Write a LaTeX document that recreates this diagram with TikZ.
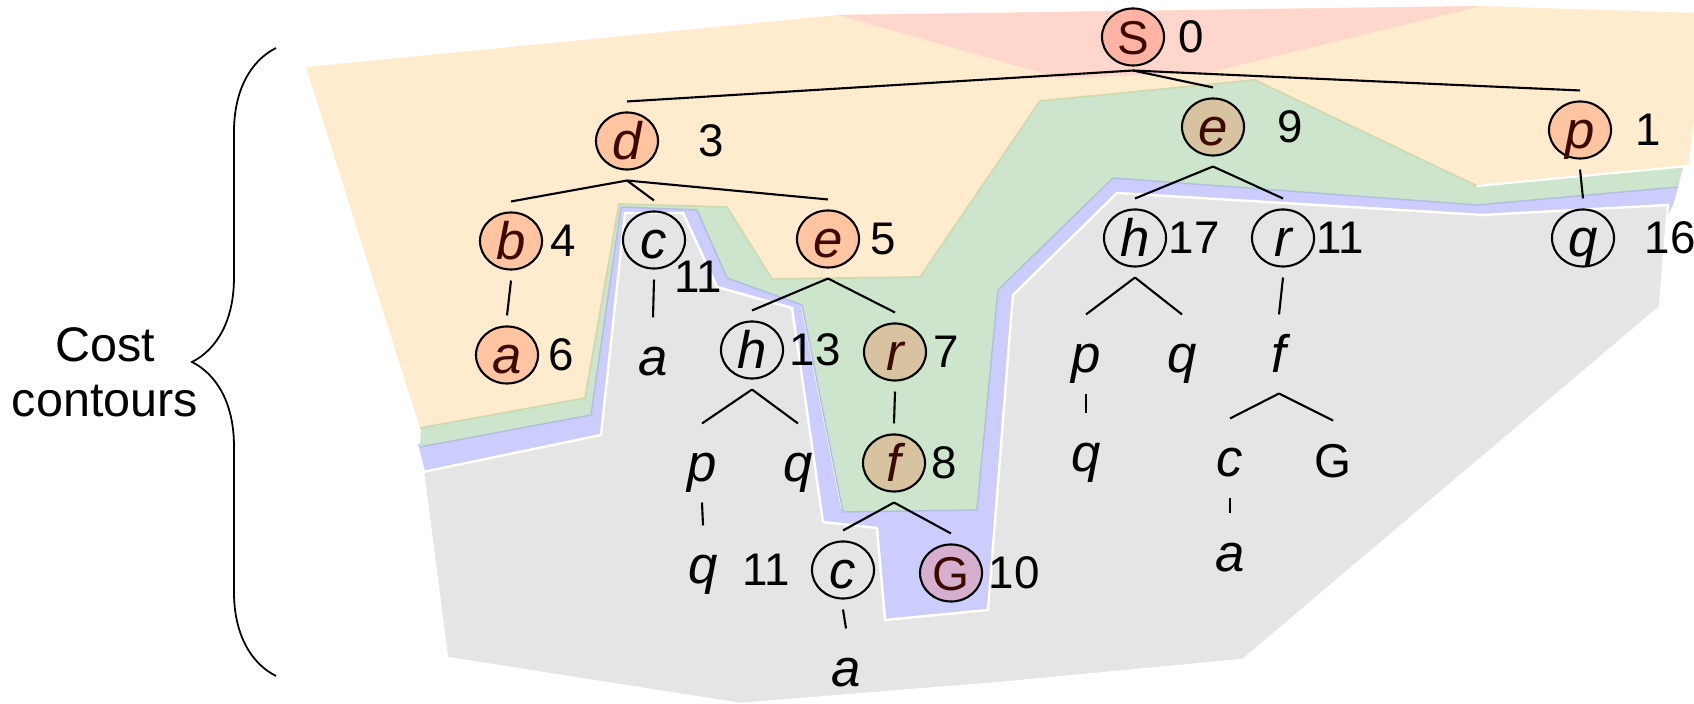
\documentclass[tikz,border=0pt]{standalone}
\usepackage{fontspec}
\setmainfont{Liberation Sans}
\usetikzlibrary{positioning, calc, shapes.geometric, decorations.pathreplacing}

\definecolor{rgOrange}{RGB}{255,235,205}
\definecolor{rgGreen}{RGB}{205,229,204}
\definecolor{rgBlue}{RGB}{204,204,255}
\definecolor{rgGray}{RGB}{229,229,229}
\definecolor{rgPink}{RGB}{255,214,204}
\definecolor{rgOlive}{RGB}{206,218,176}
\definecolor{rgSlate}{RGB}{176,190,222}
\definecolor{ndStart}{RGB}{255,180,163}
\definecolor{ndSalmon}{RGB}{255,197,160}
\definecolor{ndTan}{RGB}{216,195,160}
\definecolor{ndGoal}{RGB}{214,175,207}
\definecolor{ndText}{RGB}{60,10,0}

\newcommand{\treefont}{\fontsize{13pt}{15pt}\selectfont}
\newcommand{\letterfont}{\fontsize{15pt}{17pt}\selectfont}
\newcommand{\capfont}{\fontsize{13.5pt}{15pt}\selectfont}

\tikzset{
  st/.style    = {ellipse, draw, line width=0.6pt, minimum width=0.62cm, minimum height=0.57cm,
                  inner sep=0pt, outer ysep=0.11cm, font=\letterfont\itshape,
                  text height=0.36cm, text depth=0cm},
  lf/.style    = {st, draw=none},
  up/.style    = {font=\capfont\upshape, text height=0.345cm},
  sc/.style    = {fill=ndStart, text=ndText},
  ex/.style    = {fill=ndSalmon, text=ndText},
  tn/.style    = {fill=ndTan, text=ndText},
  gl/.style    = {fill=ndGoal, text=ndText},
  cost/.style  = {inner sep=0pt, font=\treefont},
  edge/.style  = {line width=0.6pt},
  brc/.style   = {decorate, decoration={brace, amplitude=0.84cm}, line width=0.5pt},
}

\begin{document}
\begin{tikzpicture}[x=0.01cm, y=-0.01cm]
  \useasboundingbox (0,0) rectangle (1694,704);

  % ---- cost contours ----
  \fill[rgBlue] (418,444) -- (590,412) -- (620,205) -- (697,208) -- (726,275) -- (800,302)
    -- (841,509) -- (975,507) -- (996,289) -- (1112,175) -- (1477,202) -- (1679,184)
    -- (1673,205) -- (1655,240) -- (1090,240) -- (1000,645) -- (860,645) -- (430,490) -- cycle;
  \filldraw[fill=rgGray, draw=white, line width=0.7pt] (423,472) -- (601,435) -- (625,213)
    -- (683,213) -- (717,287) -- (792,308) -- (823,522) -- (877,528) -- (885,620) -- (988,610)
    -- (1009,344) -- (1013,295) -- (1117,193) -- (1483,215) -- (1668,205) -- (1660,307)
    -- (1243,660) -- (1000,683) -- (740,704) -- (447,658) -- cycle;
  \fill[rgGreen] (420,447) -- (591,415) -- (621,207) -- (697,210) -- (727,278) -- (802,305)
    -- (843,512) -- (977,510) -- (998,290) -- (1113,178) -- (1477,205) -- (1678,187)
    -- (1683,167) -- (1686,150) -- (1477,178) -- (1255,72) -- (1040,95) -- (915,272)
    -- (772,272) -- (727,202) -- (619,199) -- (583,395) -- (421,426) -- cycle;
  \draw[rgSlate, line width=0.4pt] (420,447) -- (591,415) -- (621,207) -- (697,210) -- (727,278)
    -- (802,305) -- (843,512) -- (977,510) -- (998,290) -- (1113,178) -- (1477,205) -- (1678,187);
  \fill[rgOrange] (306,67) -- (838,15) -- (1481,6) -- (1694,13) -- (1694,120) -- (1688,166)
    -- (1477,186) -- (1255,80) -- (1040,101) -- (920,277) -- (772,279) -- (727,207)
    -- (619,204) -- (585,398) -- (420,428) -- cycle;
  \draw[rgOlive, line width=0.5pt] (1477,186) -- (1255,80) -- (1040,101) -- (920,277) -- (772,279)
    -- (727,207) -- (619,204) -- (585,398) -- (420,428);
  \draw[white, line width=0.6pt] (1477,186) -- (1688,166);
  \fill[rgPink] (838,15) -- (1481,6) -- (1207,73) -- (1060,78) -- cycle;

  % ---- search tree ----
  \node[st, sc, up, outer ysep=0.05cm] (S) at (1133,37) {S};
  \node[st, ex] (d)   at (627,141)  {d};
  \node[st, tn] (e9)  at (1213,127) {e};
  \node[st, ex] (p1)  at (1580,130) {p};
  \node[st, ex] (b)   at (511,241)  {b};
  \node[st]     (c1)  at (654,240)  {c};
  \node[st, ex] (e5)  at (828,239)  {e};
  \node[st]     (h17) at (1135,238) {h};
  \node[st]     (r11) at (1283,238) {r};
  \node[st]     (q16) at (1583,238) {q};
  \node[st, ex] (a6)  at (507,355)  {a};
  \node[lf]     (a1)  at (653,357)  {a};
  \node[st]     (h13) at (752,350)  {h};
  \node[st, tn] (r7)  at (895,352)  {r};
  \node[lf]     (p3)  at (1086,354) {p};
  \node[lf]     (q4)  at (1182,354) {q};
  \node[lf]     (f1)  at (1279,354) {f};
  \node[lf]     (p2)  at (702,463)  {p};
  \node[lf]     (q2)  at (798,463)  {q};
  \node[st, tn] (f8)  at (894,463)  {f};
  \node[lf]     (q5)  at (1086,453) {q};
  \node[lf]     (c3)  at (1230,458) {c};
  \node[lf, up] (G2)  at (1333,460) {G};
  \node[lf]     (a3)  at (1230,553) {a};
  \node[lf]     (q3)  at (703,565)  {q};
  \node[st]     (c2)  at (843,570)  {c};
  \node[st, gl, up] (G1) at (951,573) {G};
  \node[lf]     (a2)  at (846,668)  {a};

  \draw[edge] (S.south) -- (d.north);    \draw[edge] (S.south) -- (e9.north);
  \draw[edge] (S.south) -- (p1.north);
  \draw[edge] (d.south) -- (b.north);    \draw[edge] (d.south) -- (c1.north);
  \draw[edge] (d.south) -- (e5.north);
  \draw[edge] (b.south) -- (a6.north);   \draw[edge] (c1.south) -- (a1.north);
  \draw[edge] (e5.south) -- (h13.north); \draw[edge] (e5.south) -- (r7.north);
  \draw[edge] (h13.south) -- (p2.north); \draw[edge] (h13.south) -- (q2.north);
  \draw[edge] (p2.south) -- (q3.north);  \draw[edge] (r7.south) -- (f8.north);
  \draw[edge] (f8.south) -- (c2.north);  \draw[edge] (f8.south) -- (G1.north);
  \draw[edge] (c2.south) -- (a2.north);
  \draw[edge] (e9.south) -- (h17.north); \draw[edge] (e9.south) -- (r11.north);
  \draw[edge] (h17.south) -- (p3.north); \draw[edge] (h17.south) -- (q4.north);
  \draw[edge] (p3.south) -- (q5.north);  \draw[edge] (r11.south) -- (f1.north);
  \draw[edge] (f1.south) -- (c3.north);  \draw[edge] (f1.south) -- (G2.north);
  \draw[edge] (c3.south) -- (a3.north);  \draw[edge] (p1.south) -- (q16.north);

  % ---- path costs ----
  \node[cost, right=0.13cm of S]   (kS)   {0};
  \node[cost, right=0.39cm of d]   (kd)   {3};
  \node[cost, right=0.32cm of e9]  (ke9)  {9};
  \node[cost, right=0.23cm of p1]  (kp1)  {1};
  \node[cost, right=0.07cm of b]   (kb)   {4};
  \node[cost] (kc1) at ($(c1)+(44,37)$) {11};
  \node[cost, right=0.10cm of e5]  (ke5)  {5};
  \node[cost, right=0.01cm of h17] (kh17) {17};
  \node[cost, right=0.01cm of r11] (kr11) {11};
  \node[cost, right=0.29cm of q16] (kq16) {16};
  \node[cost, right=0.09cm of a6]  (ka6)  {6};
  \node[cost, right=0.05cm of h13] (kh13) {13};
  \node[cost, right=0.06cm of r7]  (kr7)  {7};
  \node[cost, right=0.05cm of f8]  (kf8)  {8};
  \node[cost, left=0.20cm of c2]   (kc2)  {11};
  \node[cost, right=0.05cm of G1]  (kG1)  {10};

  % ---- brace and caption ----
  \draw[brc] (276,676) -- (276,48);
  \node[font=\fontsize{13.8pt}{15.6pt}\selectfont, align=center] (cap) at (105,372) {Cost\\contours};
\end{tikzpicture}
\end{document}
